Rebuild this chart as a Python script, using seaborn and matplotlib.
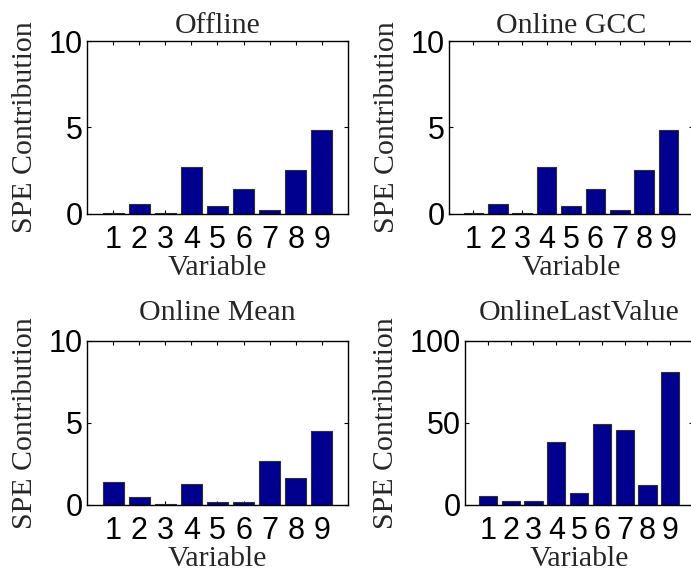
import numpy as np
import pandas as pd
import seaborn as sns
from matplotlib import pyplot as plt

# SPE contributions per variable
variables = [1, 2, 3, 4, 5, 6, 7, 8, 9]
offline = [0.05, 0.57, 0.05, 2.71, 0.48, 1.43, 0.25, 2.56, 4.85]
online_gcc = [0.05, 0.57, 0.05, 2.71, 0.48, 1.43, 0.25, 2.56, 4.85]
online_mean = [1.43, 0.50, 0.08, 1.25, 0.16, 0.16, 2.67, 1.67, 4.54]
online_last = [5.6, 2.6, 2.6, 38.4, 7.4, 49.6, 46.0, 12.4, 81.1]

titles = ["Offline", "Online GCC", "Online Mean", "OnlineLastValue"]
series = [offline, online_gcc, online_mean, online_last]
ylims = [10, 10, 10, 100]
yticks = [[0, 5, 10], [0, 5, 10], [0, 5, 10], [0, 50, 100]]
title_pads = [6, 6, 15, 15]

# axes boxes in figure fractions (right column runs off the canvas edge)
boxes = [
    [0.1259, 0.6285, 0.3777, 0.3003],
    [0.6498, 0.6285, 0.3530, 0.3003],
    [0.1259, 0.1233, 0.3777, 0.2847],
    [0.6730, 0.1233, 0.3300, 0.2847],
]

sns.set_style("ticks")
serif = ["Liberation Serif", "DejaVu Serif"]
sans = ["Liberation Sans", "DejaVu Sans"]

fig = plt.figure(figsize=(6.91, 5.76), dpi=100)

for i, (title, vals, ymax, yt, box, tp) in enumerate(zip(titles, series, ylims, yticks, boxes, title_pads)):
    ax = fig.add_axes(box)
    df = pd.DataFrame({"Variable": variables, "SPE": vals})
    sns.barplot(data=df, x="Variable", y="SPE", native_scale=True, width=0.8,
                color="#00008F", saturation=1, edgecolor="#303030", linewidth=0.8,
                errorbar=None, ax=ax)
    ax.set_xlim(0, 10)
    ax.set_ylim(0, ymax)
    ax.set_xticks(variables)
    ax.set_yticks(yt)
    ax.tick_params(direction="in", top=True, right=True, length=3, width=0.8,
                   labelsize=22, colors="black")
    ax.tick_params(axis="x", pad=8)
    ax.tick_params(axis="y", pad=3)
    for lab in ax.get_xticklabels() + ax.get_yticklabels():
        lab.set_fontfamily(sans)
    for sp in ax.spines.values():
        sp.set_visible(True)
        sp.set_color("black")
        sp.set_linewidth(1.0)
    # right column is cut off by the canvas edge in the original
    if i % 2 == 1:
        ax.spines["right"].set_visible(False)
    ax.set_title(title, fontsize=21.5, family=serif, pad=tp)
    ax.set_xlabel("Variable", fontsize=21.5, family=serif, labelpad=0)
    ax.set_ylabel("SPE Contribution", fontsize=21.5, family=serif, labelpad=8)

fig.savefig("out.png", dpi=100)
